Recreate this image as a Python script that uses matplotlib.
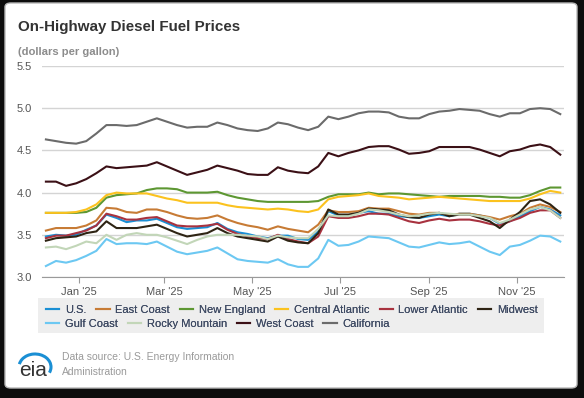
import matplotlib
matplotlib.use("Agg")
import matplotlib.pyplot as plt
import matplotlib.dates as mdates
from matplotlib.patches import FancyBboxPatch, Rectangle, Arc
from matplotlib.lines import Line2D
import pandas as pd

plt.rcParams['font.family'] = ['Liberation Sans', 'DejaVu Sans']

# weekly prices, Mondays Dec 9 2024 .. Dec 1 2025
weeks = pd.date_range('2024-12-09', periods=52, freq='W-MON')

us = [3.48, 3.50, 3.49, 3.50, 3.56, 3.61, 3.74, 3.70, 3.65, 3.67, 3.67, 3.69, 3.64,
      3.59, 3.57, 3.58, 3.59, 3.64, 3.57, 3.53, 3.51, 3.48, 3.46, 3.49, 3.49, 3.45,
      3.44, 3.54, 3.78, 3.73, 3.72, 3.76, 3.78, 3.75, 3.75, 3.72, 3.71, 3.70, 3.72,
      3.74, 3.72, 3.75, 3.75, 3.73, 3.70, 3.63, 3.66, 3.72, 3.78, 3.83, 3.80, 3.73]
east_coast = [3.55, 3.58, 3.58, 3.58, 3.61, 3.67, 3.82, 3.81, 3.77, 3.76, 3.80, 3.80, 3.77,
              3.73, 3.70, 3.69, 3.70, 3.73, 3.68, 3.64, 3.61, 3.59, 3.56, 3.60, 3.57, 3.55,
              3.53, 3.62, 3.79, 3.77, 3.77, 3.78, 3.82, 3.81, 3.81, 3.78, 3.75, 3.74, 3.76,
              3.76, 3.73, 3.75, 3.75, 3.73, 3.71, 3.68, 3.72, 3.75, 3.82, 3.86, 3.83, 3.77]
new_england = [3.76, 3.76, 3.76, 3.76, 3.77, 3.82, 3.94, 3.97, 3.98, 3.99, 4.03, 4.05, 4.05,
               4.04, 4.00, 4.00, 4.00, 4.01, 3.97, 3.94, 3.92, 3.90, 3.89, 3.89, 3.89, 3.89,
               3.89, 3.90, 3.95, 3.98, 3.98, 3.98, 4.00, 3.98, 3.99, 3.99, 3.98, 3.97, 3.96,
               3.95, 3.96, 3.96, 3.96, 3.96, 3.95, 3.95, 3.94, 3.94, 3.97, 4.02, 4.06, 4.06]
central_atlantic = [3.76, 3.76, 3.76, 3.77, 3.80, 3.86, 3.97, 4.00, 3.99, 3.99, 3.99, 3.96, 3.93,
                    3.91, 3.88, 3.88, 3.88, 3.88, 3.85, 3.83, 3.82, 3.81, 3.80, 3.81, 3.80, 3.78,
                    3.77, 3.80, 3.92, 3.95, 3.96, 3.97, 3.99, 3.96, 3.95, 3.94, 3.92, 3.93, 3.94,
                    3.95, 3.94, 3.93, 3.92, 3.91, 3.90, 3.90, 3.90, 3.90, 3.93, 3.98, 4.02, 4.00]
lower_atlantic = [3.46, 3.49, 3.49, 3.52, 3.55, 3.61, 3.75, 3.72, 3.68, 3.68, 3.70, 3.71, 3.66,
                  3.61, 3.60, 3.60, 3.61, 3.63, 3.56, 3.51, 3.48, 3.46, 3.45, 3.50, 3.45, 3.42,
                  3.40, 3.48, 3.72, 3.70, 3.70, 3.72, 3.75, 3.75, 3.74, 3.70, 3.66, 3.64, 3.67,
                  3.69, 3.67, 3.68, 3.68, 3.66, 3.63, 3.61, 3.66, 3.70, 3.76, 3.79, 3.79, 3.70]
midwest = [3.43, 3.46, 3.47, 3.48, 3.52, 3.54, 3.66, 3.58, 3.58, 3.58, 3.60, 3.62, 3.57,
           3.52, 3.48, 3.50, 3.52, 3.58, 3.52, 3.48, 3.46, 3.44, 3.42, 3.48, 3.43, 3.41,
           3.40, 3.52, 3.80, 3.74, 3.74, 3.76, 3.81, 3.80, 3.79, 3.74, 3.71, 3.70, 3.74,
           3.76, 3.72, 3.74, 3.74, 3.70, 3.66, 3.58, 3.68, 3.77, 3.90, 3.92, 3.86, 3.76]
gulf_coast = [3.13, 3.19, 3.17, 3.20, 3.25, 3.31, 3.45, 3.39, 3.40, 3.40, 3.39, 3.42, 3.36,
              3.30, 3.27, 3.29, 3.31, 3.35, 3.28, 3.21, 3.19, 3.18, 3.17, 3.21, 3.15, 3.12,
              3.12, 3.22, 3.44, 3.37, 3.38, 3.42, 3.48, 3.47, 3.46, 3.41, 3.36, 3.35, 3.38,
              3.41, 3.39, 3.40, 3.42, 3.36, 3.30, 3.26, 3.36, 3.38, 3.43, 3.49, 3.48, 3.42]
rocky_mountain = [3.35, 3.36, 3.33, 3.37, 3.42, 3.40, 3.50, 3.44, 3.50, 3.52, 3.50, 3.50, 3.47,
                  3.43, 3.39, 3.44, 3.48, 3.50, 3.50, 3.50, 3.49, 3.48, 3.45, 3.49, 3.47, 3.46,
                  3.46, 3.57, 3.73, 3.72, 3.72, 3.75, 3.80, 3.79, 3.77, 3.74, 3.72, 3.73, 3.75,
                  3.76, 3.75, 3.74, 3.74, 3.72, 3.70, 3.64, 3.68, 3.74, 3.80, 3.83, 3.79, 3.70]
west_coast = [4.13, 4.13, 4.08, 4.11, 4.16, 4.23, 4.31, 4.29, 4.30, 4.31, 4.32, 4.36, 4.31,
              4.26, 4.21, 4.24, 4.27, 4.32, 4.29, 4.26, 4.22, 4.21, 4.21, 4.30, 4.26, 4.24,
              4.23, 4.31, 4.47, 4.43, 4.47, 4.50, 4.54, 4.55, 4.55, 4.51, 4.46, 4.47, 4.49,
              4.54, 4.54, 4.54, 4.54, 4.51, 4.47, 4.43, 4.49, 4.51, 4.55, 4.57, 4.54, 4.45]
california = [4.63, 4.61, 4.59, 4.58, 4.61, 4.70, 4.80, 4.80, 4.79, 4.80, 4.84, 4.88, 4.84,
              4.80, 4.77, 4.78, 4.78, 4.83, 4.80, 4.76, 4.74, 4.73, 4.76, 4.83, 4.81, 4.77,
              4.74, 4.78, 4.90, 4.87, 4.90, 4.94, 4.96, 4.96, 4.95, 4.90, 4.88, 4.88, 4.93,
              4.96, 4.97, 4.99, 4.98, 4.97, 4.93, 4.90, 4.94, 4.94, 4.99, 5.00, 4.99, 4.93]

names = ['U.S.', 'East Coast', 'New England', 'Central Atlantic', 'Lower Atlantic',
         'Midwest', 'Gulf Coast', 'Rocky Mountain', 'West Coast', 'California']
series = [us, east_coast, new_england, central_atlantic, lower_atlantic,
          midwest, gulf_coast, rocky_mountain, west_coast, california]
colors = ['#1a8fd4', '#c77b35', '#5d9732', '#fbc21e', '#a8323f',
          '#2e2414', '#6cc8f2', '#c2d6b8', '#3b1016', '#6b6b6b']

yticks = [3.0, 3.5, 4.0, 4.5, 5.0, 5.5]

W, H = 584, 398
fig = plt.figure(figsize=(W / 100, H / 100), dpi=100, facecolor='#0d0d0d')


def fx(px):
    return px / W


def fy(py):
    return 1 - py / H


# white card behind everything
card = FancyBboxPatch((fx(5), fy(388)), fx(577) - fx(5), fy(3) - fy(388),
                      boxstyle='round,pad=0,rounding_size=0.01',
                      transform=fig.transFigure, facecolor='white',
                      edgecolor='#b8b8b8', lw=1, zorder=-10)
fig.patches.append(card)

ax = fig.add_axes([fx(42), fy(277), fx(564) - fx(42), fy(66) - fy(277)])
ax.set_zorder(2)
ax.patch.set_visible(False)
for name, vals, c in zip(names, series, colors):
    ax.plot(weeks, vals, color=c, lw=1.5, label=name, solid_joinstyle='round')

ax.set_ylim(3.0, 5.5)
ax.set_yticks(yticks)
ax.set_yticklabels([f'{v:.1f}' for v in yticks])
ax.set_xlim(pd.Timestamp('2024-12-06 07:00'), pd.Timestamp('2025-12-03 14:00'))
ax.xaxis.set_major_locator(mdates.MonthLocator(bymonth=[1, 3, 5, 7, 9, 11]))
ax.xaxis.set_major_formatter(mdates.DateFormatter("%b '%y"))
ax.yaxis.grid(True, color='#d4d4d4', lw=1)
ax.set_axisbelow(True)
for s in ['top', 'right', 'left']:
    ax.spines[s].set_visible(False)
ax.spines['bottom'].set_color('#9a9a9a')
ax.tick_params(axis='y', length=0, pad=7, labelsize=8, labelcolor='#555555')
ax.tick_params(axis='x', length=4, color='#9a9a9a', pad=3, labelsize=8, labelcolor='#555555')

fig.text(fx(18), fy(27), 'On-Highway Diesel Fuel Prices', fontsize=10.9,
         weight='bold', color='#333333', va='center')
fig.text(fx(18), fy(52), '(dollars per gallon)', fontsize=8.1,
         weight='bold', color='#8c8c8c', va='center')

# legend background + two flowing rows
fig.patches.append(Rectangle((fx(38), fy(333)), fx(544) - fx(38), fy(298) - fy(333),
                             transform=fig.transFigure, facecolor='#eeeeee',
                             edgecolor='none', zorder=-5))
handles = [Line2D([], [], color=c, lw=1.5) for c in colors]
rows = [(0, 6, 310), (6, 10, 324)]
for a, b, ypx in rows:
    leg = fig.legend(handles[a:b], names[a:b], loc='center left',
                     bbox_to_anchor=(fx(46), fy(ypx)), ncol=b - a, frameon=False,
                     fontsize=8, borderpad=0, borderaxespad=0, handlelength=1.2,
                     handletextpad=0.5, columnspacing=0.9, labelcolor='#3e4a63')
    fig.add_artist(leg)

# eia logo
fig.text(fx(19), fy(370), 'eia', fontsize=15, color='#333333', va='center')
fig.patches.append(Arc((fx(35), fy(367)), fx(32), 26 / H, theta1=-30, theta2=165,
                       transform=fig.transFigure, color='#1a8fd4', lw=2.2))

fig.text(fx(62), fy(357), 'Data source: U.S. Energy Information', fontsize=7.5,
         color='#9a9a9a', va='center')
fig.text(fx(62), fy(372), 'Administration', fontsize=7.5, color='#9a9a9a', va='center')

fig.savefig('out.png', dpi=100, facecolor=fig.get_facecolor())
